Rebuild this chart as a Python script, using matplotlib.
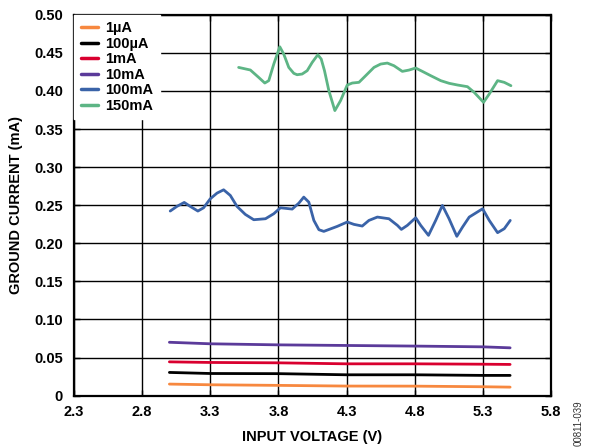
import numpy as np
import matplotlib.pyplot as plt

plt.rcParams['font.family'] = ['Liberation Sans', 'DejaVu Sans']

# series data
v_low = [3.0, 3.3, 3.8, 4.3, 4.8, 5.3, 5.5]
i_1ua = [0.0151, 0.0142, 0.0134, 0.0125, 0.0124, 0.0116, 0.0111]
i_100ua = [0.0304, 0.0290, 0.0288, 0.0273, 0.0273, 0.0265, 0.0265]
i_1ma = [0.0443, 0.0435, 0.0430, 0.0417, 0.0417, 0.0412, 0.0409]
i_10ma = [0.0700, 0.0680, 0.0666, 0.0658, 0.0650, 0.0640, 0.0627]

v_100ma = [3.006, 3.055, 3.109, 3.153, 3.209, 3.251, 3.300, 3.349, 3.398, 3.447,
           3.496, 3.557, 3.619, 3.705, 3.766, 3.815, 3.901, 3.950, 3.986, 4.023,
           4.060, 4.097, 4.133, 4.232, 4.305, 4.354, 4.415, 4.464, 4.526, 4.611,
           4.673, 4.702, 4.746, 4.807, 4.844, 4.901, 4.954, 5.003, 5.052, 5.109,
           5.151, 5.200, 5.298, 5.347, 5.408, 5.457, 5.501]
i_100ma = [0.2423, 0.2484, 0.2536, 0.2484, 0.2423, 0.2466, 0.2584, 0.2658, 0.2702, 0.2628,
           0.2484, 0.2379, 0.2309, 0.2322, 0.2388, 0.2466, 0.2449, 0.2527, 0.2606, 0.2540,
           0.2300, 0.2178, 0.2156, 0.2222, 0.2279, 0.2248, 0.2226, 0.2300, 0.2344, 0.2322,
           0.2235, 0.2182, 0.2235, 0.2335, 0.2235, 0.2104, 0.2300, 0.2497, 0.2322, 0.2091,
           0.2213, 0.2344, 0.2453, 0.2300, 0.2139, 0.2191, 0.2300]

v_150ma = [3.508, 3.594, 3.655, 3.700, 3.729, 3.766, 3.810, 3.839, 3.876, 3.913,
           3.937, 3.974, 4.011, 4.048, 4.089, 4.114, 4.138, 4.170, 4.214, 4.256,
           4.305, 4.342, 4.391, 4.440, 4.501, 4.550, 4.599, 4.648, 4.709, 4.758,
           4.807, 4.856, 4.918, 4.991, 5.053, 5.114, 5.187, 5.236, 5.305, 5.347,
           5.408, 5.457, 5.506]
i_150ma = [0.4309, 0.4275, 0.4178, 0.4104, 0.4135, 0.4353, 0.4580, 0.4484, 0.4309, 0.4231,
           0.4213, 0.4222, 0.4266, 0.4375, 0.4475, 0.4419, 0.4266, 0.4004, 0.3742, 0.3873,
           0.4078, 0.4104, 0.4113, 0.4200, 0.4309, 0.4353, 0.4366, 0.4331, 0.4257, 0.4274,
           0.4301, 0.4257, 0.4200, 0.4135, 0.4100, 0.4078, 0.4056, 0.3982, 0.3851, 0.3960,
           0.4135, 0.4113, 0.4069]

labels = ['1µA', '100µA', '1mA', '10mA', '100mA', '150mA']
colors = ['#F7883F', '#000000', '#D9002F', '#5B3A9A', '#3A63A8', '#5DB585']

x_ticks = [2.3, 2.8, 3.3, 3.8, 4.3, 4.8, 5.3, 5.8]
y_ticks = [0, 0.05, 0.10, 0.15, 0.20, 0.25, 0.30, 0.35, 0.40, 0.45, 0.50]
y_tick_labels = ['0', '0.05', '0.10', '0.15', '0.20', '0.25', '0.30', '0.35', '0.40', '0.45', '0.50']

fig = plt.figure(figsize=(5.9, 4.48), dpi=100)
ax = fig.add_axes([0.1254, 0.117, 0.8085, 0.850])

series = [(v_low, i_1ua), (v_low, i_100ua), (v_low, i_1ma), (v_low, i_10ma),
          (v_100ma, i_100ma), (v_150ma, i_150ma)]
for (x, y), lab, c in zip(series, labels, colors):
    ax.plot(x, y, color=c, lw=2.0, label=lab, solid_joinstyle='round', solid_capstyle='round')

ax.set_xlim(2.3, 5.8)
ax.set_ylim(0, 0.5)
ax.set_xticks(x_ticks)
ax.set_xticklabels([f'{t:.1f}' for t in x_ticks], fontsize=10.5, fontweight='bold')
ax.set_yticks(y_ticks)
ax.set_yticklabels(y_tick_labels, fontsize=10.5, fontweight='bold')
ax.grid(True, color='black', lw=1.0)
ax.set_axisbelow(True)
ax.tick_params(direction='in', length=4, width=1, top=True, right=True)
ax.tick_params(axis='x', pad=7)
ax.tick_params(axis='y', pad=8)
for s in ax.spines.values():
    s.set_linewidth(1.6)

ax.set_xlabel('INPUT VOLTAGE (V)', fontsize=10.5, fontweight='bold', labelpad=8)
ax.set_ylabel('GROUND CURRENT (mA)', fontsize=10.5, fontweight='bold', labelpad=8)

leg = ax.legend(loc='upper left', bbox_to_anchor=(0.0, 1.0), frameon=True, fancybox=False,
                edgecolor='white', framealpha=1.0, handlelength=1.2, handletextpad=0.5,
                labelspacing=0.1, borderpad=0.45, borderaxespad=0.0,
                prop={'weight': 'bold', 'size': 10.5})
for line in leg.get_lines():
    line.set_linewidth(2.5)

fig.text(0.98, 0.055, '00811-039', rotation=90, fontsize=7, ha='center', va='center', color='#333333')

fig.savefig('out.png', dpi=100)
